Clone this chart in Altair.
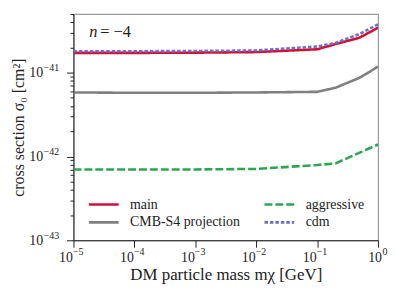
import altair as alt
import pandas as pd

# ---- data ----
mass = [1e-5, 1e-4, 1e-3, 1e-2, 1e-1, 2e-1, 5e-1, 1.0]
main = [1.72e-41, 1.72e-41, 1.73e-41, 1.76e-41, 1.90e-41, 2.19e-41, 2.62e-41, 3.44e-41]
cmbs4 = [5.8e-42, 5.75e-42, 5.75e-42, 5.8e-42, 5.9e-42, 6.6e-42, 8.7e-42, 1.18e-41]
aggressive = [7.0e-43, 7.0e-43, 7.0e-43, 7.1e-43, 7.9e-43, 8.26e-43, 1.11e-42, 1.39e-42]
cdm = [1.80e-41, 1.80e-41, 1.81e-41, 1.84e-41, 2.05e-41, 2.26e-41, 2.90e-41, 3.77e-41]

series_names = ["main", "CMB-S4 projection", "aggressive", "cdm"]
series_colors = ["#d20f3a", "#808080", "#2ea552", "#6e6ec4"]
series_dashes = [[1, 0], [1, 0], [8, 3], [3.5, 2]]
draw_order = ["CMB-S4 projection", "aggressive", "main", "cdm"]
values_by_series = {"main": main, "CMB-S4 projection": cmbs4,
                    "aggressive": aggressive, "cdm": cdm}

# tick labels: base "10" and exponents (drawn as superscripts)
x_exps = [-5, -4, -3, -2, -1, 0]
x_exp_labels = ["−5", "−4", "−3", "−2", "−1", "0"]
y_exps = [-43, -42, -41]
y_exp_labels = ["−43", "−42", "−41"]
tick_base = "10"
y_minor = [k * 10.0 ** e for e in (-43, -42, -41) for k in range(1, 10) if k * 10.0 ** e <= 5.01e-41]

rows = []
for s in series_names:
    for m, v in zip(mass, values_by_series[s]):
        rows.append({"mass": m, "sigma": v, "series": s})
df = pd.DataFrame(rows)

FONT = "Liberation Serif"
E = "(round(log(datum.value)/LN10*1000)/1000)"
IS_MAJOR = f"{E} == round({E})"


def exp_expr(exps, labels):
    parts = [f"{E} == {e} ? '{l}'" for e, l in zip(exps, labels)]
    return " : ".join(parts) + " : ''"


xscale = alt.Scale(type="log", domain=[1e-5, 1.0], nice=False)
yscale = alt.Scale(type="log", domain=[1e-43, 5e-41], nice=False)
x_major = [10.0 ** e for e in x_exps]
y_major = [10.0 ** e for e in y_exps]

# main axes: ticks, "10" base labels, titles
xaxis_a = alt.Axis(orient="bottom", values=x_major, labelExpr=f"'{tick_base}'",
                   title="DM particle mass mχ [GeV]", grid=False, tickSize=7,
                   labelFontSize=14, labelAlign="center", labelBaseline="top",
                   labelOffset={"condition": {"test": "datum.value >= 0.999", "value": -3.5}, "value": -8},
                   labelOverlap=False, labelFlush=False, labelPadding=3, titlePadding=3,
                   titleFontSize=17)
yaxis_a = alt.Axis(orient="left", values=y_minor,
                   labelExpr=f"{IS_MAJOR} ? '{tick_base}' : ''",
                   title="cross section σ₀ [cm²]", grid=False,
                   tickSize={"condition": {"test": IS_MAJOR, "value": 7}, "value": 3.5},
                   labelFontSize=14, labelAlign="right", labelBaseline="middle",
                   labelOverlap=False, labelPadding=24, titlePadding=2, titleFontSize=16)
# exponent axes (superscripts)
xaxis_b = alt.Axis(orient="bottom", values=x_major, labelExpr=exp_expr(x_exps, x_exp_labels),
                   title=None, grid=False, ticks=False, tickSize=0, domain=False,
                   labelFontSize=10, labelAlign="left", labelBaseline="top",
                   labelOffset={"condition": {"test": "datum.value >= 0.999", "value": 4}, "value": -1},
                   labelOverlap=False, labelFlush=False, labelPadding=6.5)
yaxis_b = alt.Axis(orient="left", values=y_major, labelExpr=exp_expr(y_exps, y_exp_labels),
                   title=None, grid=False, ticks=False, tickSize=0, domain=False,
                   labelFontSize=10, labelAlign="right", labelBaseline="middle",
                   labelOffset=-5, labelOverlap=False, labelPadding=15)

legend = alt.Legend(title=None, orient="none", legendX=14, legendY=183, columns=2,
                    symbolType="M-1,0L3,0", symbolSize=225, symbolStrokeWidth=2.6,
                    labelOffset=25, columnPadding=19, rowPadding=2, padding=0,
                    labelFont=FONT, labelFontSize=14, labelColor="#222",
                    symbolFillColor="transparent")

layers = []
for i, s in enumerate(draw_order):
    layers.append(
        alt.Chart(df).transform_filter(alt.datum.series == s).mark_line(strokeWidth=2.6, clip=True).encode(
            x=alt.X("mass:Q", scale=xscale, axis=xaxis_a if i == 0 else None),
            y=alt.Y("sigma:Q", scale=yscale, axis=yaxis_a if i == 0 else None),
            color=alt.Color("series:N", scale=alt.Scale(domain=series_names, range=series_colors), legend=legend),
            strokeDash=alt.StrokeDash("series:N", scale=alt.Scale(domain=series_names, range=series_dashes), legend=legend),
        )
    )

note = pd.DataFrame({"x": [1.82e-5], "x2": [2.75e-5], "y": [3.06e-41]})
n_text = alt.Chart(note).mark_text(text="n", font=FONT, fontSize=16.5, fontStyle="italic",
                                   align="left", baseline="middle", color="#222").encode(
    x=alt.X("x:Q", scale=xscale, axis=xaxis_b), y=alt.Y("y:Q", scale=yscale, axis=yaxis_b))
eq_text = alt.Chart(note).mark_text(text="= −4", font=FONT, fontSize=16.5,
                                    align="left", baseline="middle", color="#222").encode(
    x=alt.X("x2:Q", scale=xscale, axis=None), y=alt.Y("y:Q", scale=yscale, axis=None))

chart = alt.layer(*layers, n_text, eq_text).resolve_axis(x="independent", y="independent").properties(
    width=307, height=228,
    background="white",
    autosize=alt.AutoSizeParams(type="none"),
    padding={"left": 66, "top": 5, "right": 12, "bottom": 45},
).configure_view(stroke="#999", strokeWidth=1.2).configure_axis(
    domainColor="#222", tickColor="#222", labelColor="#222", titleColor="#222",
    labelFont=FONT, titleFont=FONT,
    titleFontWeight="normal", domainWidth=1, tickWidth=1,
).configure_legend(labelFont=FONT).configure_text(font=FONT)

chart.save("out.html", embed_options={"renderer": "svg", "actions": False})
